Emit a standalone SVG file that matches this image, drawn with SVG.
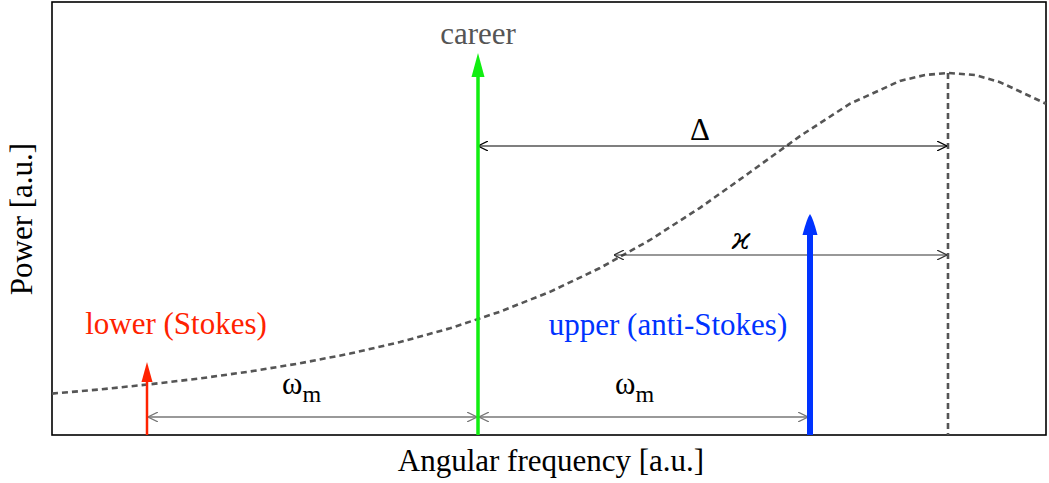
<svg xmlns="http://www.w3.org/2000/svg" width="1049" height="483" viewBox="0 0 1049 483">
<defs>
<style>
.t{font-family:"Liberation Serif","Times New Roman",serif;font-size:31px;}
.dash{fill:none;stroke:#555;stroke-width:2.6;stroke-dasharray:6,4;}
</style>
<marker id="open" viewBox="0 0 10 10" refX="10" refY="5" markerWidth="10" markerHeight="10" markerUnits="userSpaceOnUse" orient="auto-start-reverse">
<path d="M0,0 L10,5 L0,10" fill="none" stroke="context-stroke" stroke-width="1.2"/>
</marker>
</defs>
<rect x="0" y="0" width="1049" height="483" fill="#fff"/>
<g id="axes">
<rect x="52" y="2" width="994" height="433" fill="none" stroke="#000" stroke-width="1.6"/>
<text class="t" x="551" y="471" text-anchor="middle">Angular frequency [a.u.]</text>
<text class="t" x="0" y="0" text-anchor="middle" font-size="32" transform="translate(32,219) rotate(-90)">Power [a.u.]</text>
</g>
<g id="curve">
<path class="dash" d="M52,393.6 L100,389.4 L150,384.3 L200,378.4 L250,371.5 L300,363.3 L350,353.6 L400,342.1 L450,328.3 L500,311.7 L550,291.8 L600,268 L650,240 L700,207.8 L750,172.3 L800,136.1 L850,103.7 L900,80.9 L925,75 L948,73 L975,75 L1000,82.2 L1020,91.5 L1046,103.7"/>
<path class="dash" d="M948,73 L948,435"/>
</g>
<g id="connectors">
<line x1="478" y1="146" x2="947" y2="146" stroke="#000" stroke-width="1.2" marker-start="url(#open)" marker-end="url(#open)"/>
<line x1="614" y1="255" x2="947" y2="255" stroke="#333" stroke-width="1.2" marker-start="url(#open)" marker-end="url(#open)"/>
<line x1="148" y1="417" x2="477" y2="417" stroke="#777" stroke-width="1.5" marker-start="url(#open)" marker-end="url(#open)"/>
<line x1="479" y1="417" x2="808" y2="417" stroke="#777" stroke-width="1.5" marker-start="url(#open)" marker-end="url(#open)"/>
</g>
<g id="lower">
<line x1="147" y1="435" x2="147" y2="378" stroke="#ff2200" stroke-width="2.5"/>
<path d="M147,362 L152.5,382 L141.5,382 Z" fill="#ff2200"/>
<text class="t" x="176" y="334" text-anchor="middle" fill="#ff2200">lower (Stokes)</text>
</g>
<g id="career">
<line x1="478" y1="435" x2="478" y2="72" stroke="#11ee11" stroke-width="3.5"/>
<path d="M478,53 L484.5,77 L471.5,77 Z" fill="#11ee11"/>
<text class="t" x="478" y="44" text-anchor="middle" fill="#555">career</text>
</g>
<g id="upper">
<line x1="810" y1="435" x2="810" y2="230" stroke="#0033ff" stroke-width="6"/>
<path d="M810,214 Q813,218 817.5,235 L802.5,235 Q807,218 810,214 Z" fill="#0033ff"/>
<text class="t" x="668" y="335" text-anchor="middle" fill="#0033ff">upper (anti-Stokes)</text>
</g>
<g id="labels">
<text class="t" x="700" y="140" text-anchor="middle" font-size="34">Δ</text>
<text x="741" y="249" text-anchor="middle" style="font-family:'DejaVu Serif',serif;font-size:30px;font-style:italic;">ϰ</text>
<text class="t" x="282" y="394" font-size="34">ω<tspan font-size="24" dy="8">m</tspan></text>
<text class="t" x="615" y="394" font-size="34">ω<tspan font-size="24" dy="8">m</tspan></text>
</g>
</svg>
